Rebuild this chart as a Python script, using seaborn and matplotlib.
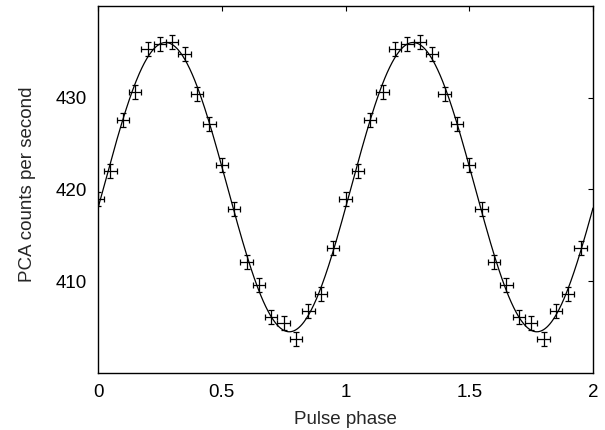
import numpy as np
import pandas as pd
import matplotlib
matplotlib.use("Agg")
import matplotlib.pyplot as plt
import seaborn as sns

# Phase bins (one cycle, shown twice)
phase_bins = [0.00, 0.05, 0.10, 0.15, 0.20, 0.25, 0.30, 0.35, 0.40, 0.45,
              0.50, 0.55, 0.60, 0.65, 0.70, 0.75, 0.80, 0.85, 0.90, 0.95]
rate = [418.96, 422.05, 427.57, 430.66, 435.28, 435.85, 436.04, 434.73, 430.45, 427.14,
        422.67, 417.87, 412.07, 409.59, 406.14, 405.41, 403.71, 406.76, 408.61, 413.59]
rate_err = [0.75] * 20
bin_halfwidth = 0.025

x_ticks = [0, 0.5, 1, 1.5, 2]
x_ticklabels = ["0", "0.5", "1", "1.5", "2"]
y_ticks = [410, 420, 430]
y_ticklabels = ["410", "420", "430"]

sns.set_theme(style="white")
plt.rcParams['font.family'] = ['Liberation Sans', 'DejaVu Sans']

phase = np.array(phase_bins)
vals = np.array(rate)
df = pd.DataFrame({
    "phase": np.concatenate([phase, phase + 1]),
    "rate": np.concatenate([vals, vals]),
    "err": np.concatenate([rate_err, rate_err]),
})

# First-harmonic least-squares fit to the data
A = np.column_stack([np.ones_like(phase), np.cos(2 * np.pi * phase), np.sin(2 * np.pi * phase)])
coef, *_ = np.linalg.lstsq(A, vals, rcond=None)
xf = np.linspace(0, 2, 600)
fit = pd.DataFrame({"phase": xf,
                    "rate": coef[0] + coef[1] * np.cos(2 * np.pi * xf) + coef[2] * np.sin(2 * np.pi * xf)})

fig = plt.figure(figsize=(6.05, 4.3), dpi=100)
ax = fig.add_axes([98 / 605, 1 - 373 / 430, 495 / 605, 367 / 430])

sns.lineplot(data=fit, x="phase", y="rate", ax=ax, color="black", lw=0.9)
ax.errorbar(df["phase"], df["rate"], yerr=df["err"], xerr=bin_halfwidth,
            fmt="none", ecolor="black", elinewidth=0.9, capsize=2.2, capthick=0.9)

ax.set_xlim(0, 2)
ax.set_ylim(400, 440)
ax.set_xticks(x_ticks)
ax.set_xticklabels(x_ticklabels)
ax.set_yticks(y_ticks)
ax.set_yticklabels(y_ticklabels)
ax.tick_params(direction="in", length=3.5, width=0.8, top=True, right=True,
               labelsize=13.5, pad=8, colors="black")
for s in ax.spines.values():
    s.set_visible(True)
    s.set_color("black")
    s.set_linewidth(1.0)

ax.set_xlabel("Pulse phase", fontsize=13.5, labelpad=7)
ax.set_ylabel("PCA counts per second", fontsize=13.5, labelpad=14)
ax.yaxis.set_label_coords(-0.126, 0.515)

fig.savefig("out.png", dpi=100, facecolor="white")
